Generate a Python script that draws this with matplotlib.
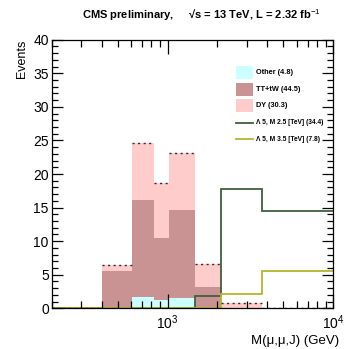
import numpy as np
import matplotlib
matplotlib.use('Agg')
import matplotlib.pyplot as plt
from matplotlib.patches import Rectangle
from matplotlib.ticker import MultipleLocator, LogLocator, NullFormatter

plt.rcParams['font.family'] = ['Liberation Sans', 'DejaVu Sans']
plt.rcParams['mathtext.fontset'] = 'custom'
plt.rcParams['mathtext.rm'] = 'Liberation Sans'
plt.rcParams['mathtext.it'] = 'Liberation Sans'

# bin edges in GeV
edges = [200, 405, 613, 828, 1025, 1469, 2094, 3715, 10000]

other = [0, 0.2, 1.75, 1.25, 1.6, 0, 0, 0]
ttw = [0, 5.4, 14.45, 9.15, 13.0, 3.1, 0, 0]
dy = [0, 0.8, 8.4, 8.2, 8.5, 3.45, 0.75, 0]
sig25 = [0, 0, 0, 0, 0, 1.9, 17.8, 14.5]
sig35 = [0, 0, 0, 0, 0, 0.1, 2.1, 5.6]

labels = ['Other (4.8)', 'TT+tW (44.5)', 'DY (30.3)',
          'Λ 5, M 2.5 [TeV] (34.4)', 'Λ 5, M 3.5 [TeV] (7.8)']
c_other = '#ccffff'
c_tt = '#c99393'
c_dy = '#ffcccc'
c_s25 = '#3d613d'
c_s35 = '#b5b530'

other = np.array(other)
ttw = np.array(ttw)
dy = np.array(dy)
top1 = other + ttw
total = top1 + dy

fig = plt.figure(figsize=(3.49, 3.49), dpi=100)
ax = fig.add_axes([0.148, 0.1166, 0.807, 0.7696])

ax.stairs(total, edges, baseline=top1, fill=True, color=c_dy, lw=0)
ax.stairs(top1, edges, baseline=other, fill=True, color=c_tt, lw=0)
ax.stairs(other, edges, baseline=0, fill=True, color=c_other, lw=0)
ax.hlines(total, edges[:-1], edges[1:], colors='#3a2626', linestyles=(0, (1.5, 2.5)), lw=1.0)
ax.stairs(sig25, edges, baseline=None, color=c_s25, lw=1.3)
ax.stairs(sig35, edges, baseline=None, color=c_s35, lw=1.3)

ax.set_xscale('log')
ax.set_xlim(200, 10000)
ax.set_ylim(0, 40)
ax.yaxis.set_major_locator(MultipleLocator(5))
ax.yaxis.set_minor_locator(MultipleLocator(1))
ax.xaxis.set_major_locator(LogLocator(base=10, numticks=10))
ax.xaxis.set_minor_locator(LogLocator(base=10, subs=np.arange(2, 10), numticks=20))
ax.xaxis.set_minor_formatter(NullFormatter())
ax.tick_params(which='both', direction='in', top=True, right=True, width=0.9, labelsize=10, colors='black')
ax.tick_params(which='major', axis='y', length=8, pad=2)
ax.tick_params(which='minor', axis='y', length=4)
ax.tick_params(which='major', axis='x', length=10, pad=4)
ax.tick_params(which='minor', axis='x', length=5)
for s in ax.spines.values():
    s.set_linewidth(0.9)

ax.set_ylabel('Events', fontsize=9, loc='top', labelpad=4)
ax.set_xlabel('M(μ,μ,J) (GeV)', fontsize=9.5, ha='right')
ax.xaxis.set_label_coords(1.02, -0.1)

fig.text(0.576, 0.957, 'CMS preliminary,     √s = 13 TeV, L = 2.32 fb$^{-1}$',
         ha='center', va='center', fontsize=8, fontweight='bold')

# legend drawn by hand, ROOT TLegend style
kinds = ['box', 'box', 'box', 'line', 'line']
colors = [c_other, c_tt, c_dy, c_s25, c_s35]
sizes = [5.3, 5.3, 5.3, 4.8, 4.8]
x0, x1, xt = 0.6545, 0.7148, 0.727
for i in range(len(labels)):
    yc = 0.877 - i * 0.0618
    if kinds[i] == 'box':
        ax.add_patch(Rectangle((x0, yc - 0.0242), x1 - x0, 0.0484, transform=ax.transAxes,
                               facecolor=colors[i], edgecolor='none'))
    else:
        ax.plot([x0, x1], [yc, yc], color=colors[i], lw=1.3, transform=ax.transAxes)
    ax.text(xt, yc, labels[i], transform=ax.transAxes, ha='left', va='center',
            fontsize=sizes[i], fontweight='bold')

fig.savefig('out.png', dpi=100)
